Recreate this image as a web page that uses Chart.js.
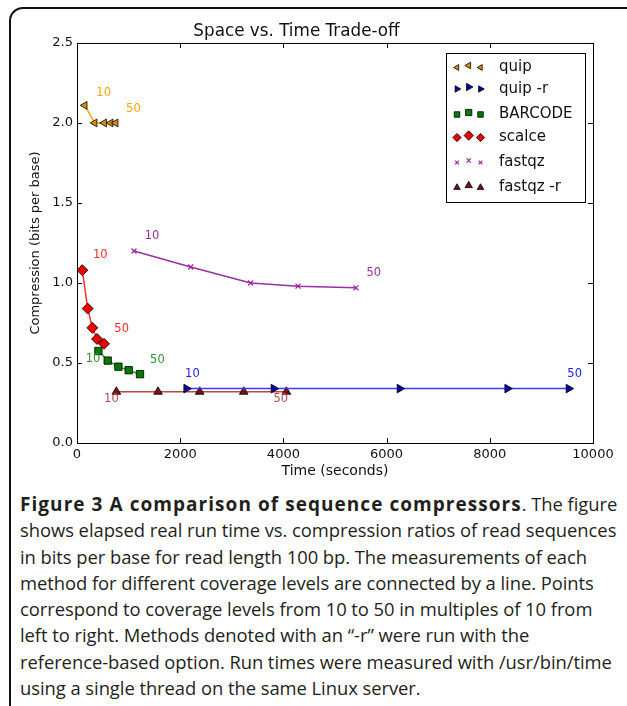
<!DOCTYPE html>
<html>
<head>
<meta charset="utf-8">
<script src="https://cdn.jsdelivr.net/npm/chart.js@4"></script>
<style>
  html, body { margin: 0; padding: 0; background: #fff; overflow: hidden; width: 627px; height: 706px; }
  #frame { position: absolute; left: 9px; top: 7px; width: 700px; height: 800px;
           border-top: 2px solid #111; border-left: 2px solid #111; border-top-left-radius: 14px; }
  #wrap { position: absolute; left: 0; top: 0; width: 627px; height: 480px; }
  #caption { position: absolute; left: 20px; top: 491px; white-space: nowrap;
             font-family: "Open Sans", sans-serif; font-size: 18.4px; line-height: 26.3px; color: #231f20;
             letter-spacing: -0.05px; }
  #caption b { font-weight: 700; font-size: 19px; letter-spacing: 1.05px; }
</style>
</head>
<body>
<div id="frame"></div>
<div id="wrap"><canvas id="chart" width="627" height="480"></canvas></div>
<div id="caption"><b>Figure 3 A comparison of sequence compressors</b>. The figure<br>shows elapsed real run time vs. compression ratios of read sequences<br>in bits per base for read length 100 bp. The measurements of each<br>method for different coverage levels are connected by a line. Points<br>correspond to coverage levels from 10 to 50 in multiples of 10 from<br>left to right. Methods denoted with an “-r” were run with the<br>reference-based option. Run times were measured with /usr/bin/time<br>using a single thread on the same Linux server.</div>
<script>
// run time in seconds, compression in bits per base (coverage 10..50)
const methods = ['quip', 'quip -r', 'BARCODE', 'scalce', 'fastqz', 'fastqz -r'];
const quipTime = [150, 343, 527, 653, 750];
const quipBits = [2.11, 2.0, 2.0, 2.0, 2.0];
const quipRTime = [2120, 3812, 6253, 8341, 9529];
const quipRBits = [0.34, 0.34, 0.34, 0.34, 0.34];
const barcodeTime = [415, 595, 802, 1002, 1221];
const barcodeBits = [0.575, 0.515, 0.477, 0.455, 0.43];
const scalceTime = [104, 207, 298, 388, 523];
const scalceBits = [1.08, 0.84, 0.72, 0.65, 0.62];
const fastqzTime = [1105, 2203, 3366, 4283, 5407];
const fastqzBits = [1.2, 1.1, 1.0, 0.98, 0.97];
const fastqzRTime = [763, 1570, 2378, 3231, 4058];
const fastqzRBits = [0.32, 0.32, 0.32, 0.32, 0.32];
const xTicks = [0, 2000, 4000, 6000, 8000, 10000];
const yTicks = [0.0, 0.5, 1.0, 1.5, 2.0, 2.5];

// coverage labels placed next to first/last points: [x, y, text]
const coverageLabels = [
  [[517, 2.19, '10'], [1093, 2.09, '50']],
  [[2236, 0.434, '10'], [9645, 0.434, '50']],
  [[310, 0.527, '10'], [1558, 0.521, '50']],
  [[453, 1.173, '10'], [866, 0.713, '50']],
  [[1453, 1.292, '10'], [5750, 1.063, '50']],
  [[667, 0.273, '10'], [3948, 0.273, '50']]
];

const lineColors = ['#ffa500', '#3b3bff', '#2e9a2e', '#ff3030', '#9a2fa0', '#b5494a'];
const markerFill = ['#d98b00', '#0000b0', '#007a00', '#ee0000', '#a020a0', '#7a1010'];
const labelColors = ['#ffa500', '#2020ff', '#2e9a2e', '#ff2a2a', '#9a2fa0', '#b5494a'];
const pointStyles = ['triangle', 'triangle', 'rect', 'rectRot', 'crossRot', 'triangle'];
const rotations = [-90, 90, 0, 0, 0, 0];
const radii = [4.5, 5, 5.2, 5.5, 3.5, 5];

const series = [
  [quipTime, quipBits], [quipRTime, quipRBits], [barcodeTime, barcodeBits],
  [scalceTime, scalceBits], [fastqzTime, fastqzBits], [fastqzRTime, fastqzRBits]
];

const datasets = series.map(function (s, i) {
  return {
    label: methods[i],
    data: s[0].map(function (t, j) { return { x: t, y: s[1][j] }; }),
    showLine: true,
    borderColor: lineColors[i],
    borderWidth: 1.5,
    pointStyle: pointStyles[i],
    rotation: rotations[i],
    pointRadius: radii[i],
    pointBackgroundColor: markerFill[i],
    pointBorderColor: i === 4 ? markerFill[i] : '#000',
    pointBorderWidth: i === 4 ? 1.2 : 0.8
  };
});

const extras = {
  id: 'extras',
  afterDatasetsDraw: function (chart) {
    const ctx = chart.ctx;
    const a = chart.chartArea;
    const xs = chart.scales.x, ys = chart.scales.y;
    ctx.save();
    // frame and inward ticks
    ctx.strokeStyle = '#000';
    ctx.lineWidth = 1;
    ctx.strokeRect(a.left + 0.5, a.top + 0.5, a.right - a.left, a.bottom - a.top);
    ctx.beginPath();
    xTicks.forEach(function (v) {
      const px = Math.round(xs.getPixelForValue(v)) + 0.5;
      ctx.moveTo(px, a.bottom); ctx.lineTo(px, a.bottom - 5);
      ctx.moveTo(px, a.top); ctx.lineTo(px, a.top + 5);
    });
    yTicks.forEach(function (v) {
      const py = Math.round(ys.getPixelForValue(v)) + 0.5;
      ctx.moveTo(a.left, py); ctx.lineTo(a.left + 5, py);
      ctx.moveTo(a.right, py); ctx.lineTo(a.right - 5, py);
    });
    ctx.stroke();

    // coverage labels
    ctx.font = '11.5px "DejaVu Sans"';
    ctx.textAlign = 'center';
    ctx.textBaseline = 'middle';
    coverageLabels.forEach(function (pair, i) {
      ctx.fillStyle = labelColors[i];
      pair.forEach(function (l) {
        ctx.fillText(l[2], xs.getPixelForValue(l[0]), ys.getPixelForValue(l[1]));
      });
    });

    // legend box
    const lx = 446, ly = 53, lw = 139, lh = 149;
    ctx.fillStyle = '#fff';
    ctx.fillRect(lx, ly, lw, lh);
    ctx.strokeStyle = '#000';
    ctx.strokeRect(lx + 0.5, ly + 0.5, lw, lh);
    ctx.font = '15px "DejaVu Sans"';
    ctx.textAlign = 'left';
    const rowY = [67.5, 89, 114.5, 137.5, 162.5, 187.5];
    const mx = [457, 468.7, 480.5];
    datasets.forEach(function (d, i) {
      mx.forEach(function (x, k) {
        const style = {
          pointStyle: d.pointStyle, rotation: d.rotation,
          radius: d.pointRadius * (k === 1 ? 0.85 : 0.75),
          borderWidth: d.pointBorderWidth
        };
        ctx.fillStyle = d.pointBackgroundColor;
        ctx.strokeStyle = d.pointBorderColor;
        ctx.lineWidth = d.pointBorderWidth;
        Chart.helpers.drawPoint(ctx, style, x, rowY[i] + (k === 1 ? -2 : 0));
      });
      ctx.fillStyle = '#111';
      ctx.fillText(d.label, 499, rowY[i]);
    });
    ctx.restore();
  }
};

new Chart(document.getElementById('chart'), {
  type: 'scatter',
  data: { datasets: datasets },
  options: {
    responsive: false,
    animation: false,
    layout: { padding: { left: 0, right: 34, top: 0, bottom: 0 } },
    plugins: {
      legend: { display: false },
      tooltip: { enabled: false },
      title: {
        display: true,
        text: 'Space vs. Time Trade-off',
        color: '#111',
        font: { family: 'DejaVu Sans', size: 16.8, weight: 'normal', lineHeight: 1.2 },
        padding: { top: 22, bottom: 0.8 }
      }
    },
    scales: {
      x: {
        type: 'linear', min: 0, max: 10000,
        afterBuildTicks: function (s) { s.ticks = xTicks.map(function (v) { return { value: v }; }); },
        afterFit: function (s) { s.height = 37; },
        grid: { display: false, drawTicks: false, tickLength: 0 },
        border: { display: false },
        ticks: { color: '#111', padding: 4, font: { family: 'DejaVu Sans', size: 13 },
                 callback: function (v) { return String(v); } },
        title: { display: true, text: 'Time (seconds)', color: '#111', padding: 0,
                 font: { family: 'DejaVu Sans', size: 14 } }
      },
      y: {
        min: 0, max: 2.5,
        afterBuildTicks: function (s) { s.ticks = yTicks.map(function (v) { return { value: v }; }); },
        afterFit: function (s) { s.width = 77; },
        grid: { display: false, drawTicks: false, tickLength: 0 },
        border: { display: false },
        ticks: { color: '#111', padding: 4, font: { family: 'DejaVu Sans', size: 13 },
                 callback: function (v) { return Number(v).toFixed(1); } },
        title: { display: true, text: 'Compression (bits per base)', color: '#111',
                 padding: { top: 28, bottom: 0 }, font: { family: 'DejaVu Sans', size: 13 } }
      }
    }
  },
  plugins: [extras]
});
</script>
</body>
</html>
